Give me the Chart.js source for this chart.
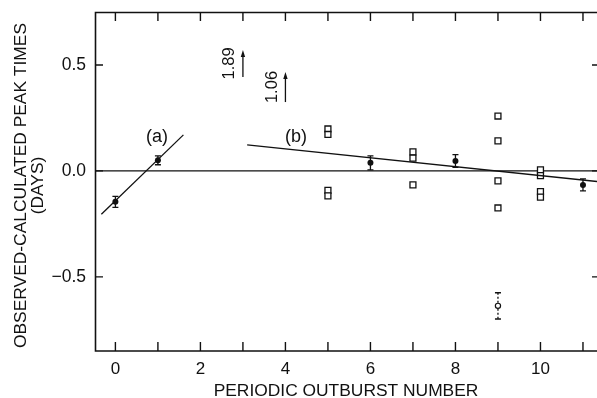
<!DOCTYPE html>
<html>
<head>
<meta charset="utf-8">
<script src="https://cdn.jsdelivr.net/npm/chart.js@4.4.0/dist/chart.umd.min.js"></script>
<style>
  html, body { margin: 0; padding: 0; background: #fff; }
  #wrap { width: 597px; height: 398px; }
</style>
</head>
<body>
<div id="wrap"><canvas id="chart0" width="597" height="398"></canvas></div>
<script>
// filled points with error bars
const dotX = [0, 1, 6, 8, 11];
const dotY = [-0.146, 0.05, 0.038, 0.047, -0.066];
const dotErr = [0.026, 0.021, 0.033, 0.03, 0.028];

// open squares
const boxX = [5, 5, 5, 5, 7, 7, 7, 9, 9, 9, 9, 10, 10, 10, 10];
const boxY = [0.198, 0.172, -0.092, -0.118, 0.09, 0.06, -0.066,
              0.259, 0.142, -0.047, -0.175, 0.005, -0.022, -0.098, -0.124];

// open circle with dotted error bar
const ringX = [9];
const ringY = [-0.637];
const ringErr = [0.062];

// fitted lines (a) and (b)
const lineAX = [-0.33, 1.6];
const lineAY = [-0.205, 0.17];
const lineBX = [3.1, 11.33];
const lineBY = [0.123, -0.05];

// off-scale values, shown as arrows
const arrowX = [3, 4];
const arrowFrom = [0.443, 0.325];
const arrowTo = [0.571, 0.467];
const arrowText = ['1.89', '1.06'];

// line labels
const noteText = ['(a)', '(b)'];
const noteX = [0.98, 4.25];
const noteY = [0.16, 0.16];

const xTicks = [0, 2, 4, 6, 8, 10];
const xMinor = [0, 1, 2, 3, 4, 5, 6, 7, 8, 9, 10, 11];
const yTicks = [-0.5, 0, 0.5];

const ink = '#111';
const fam = '"Liberation Sans", Arial, Helvetica, sans-serif';

function pts(xs, ys) {
  return xs.map((x, i) => ({ x: x, y: ys[i] }));
}

function noPad(s) {
  s.paddingTop = 0;
  s.paddingBottom = 0;
  s.paddingLeft = 0;
  s.paddingRight = 0;
}

const decor = {
  id: 'decor',
  beforeDatasetsDraw(chart) {
    const { ctx, chartArea: a, scales: { y } } = chart;
    // zero line
    const py = y.getPixelForValue(0);
    ctx.save();
    ctx.strokeStyle = ink;
    ctx.lineWidth = 1.4;
    ctx.beginPath();
    ctx.moveTo(a.left, py);
    ctx.lineTo(a.right, py);
    ctx.stroke();
    ctx.restore();
  },
  afterDatasetsDraw(chart) {
    const { ctx, chartArea: a, scales: { x, y } } = chart;
    ctx.save();
    ctx.strokeStyle = ink;
    ctx.fillStyle = ink;

    // frame
    ctx.lineWidth = 1.6;
    ctx.beginPath();
    ctx.moveTo(a.right, a.top + 0.5);
    ctx.lineTo(a.left + 0.5, a.top + 0.5);
    ctx.lineTo(a.left + 0.5, a.bottom);
    ctx.lineTo(a.right, a.bottom);
    ctx.stroke();

    // inward ticks
    ctx.lineWidth = 1.4;
    ctx.beginPath();
    xMinor.forEach(v => {
      const px = x.getPixelForValue(v);
      ctx.moveTo(px, a.bottom); ctx.lineTo(px, a.bottom - 9);
      ctx.moveTo(px, a.top); ctx.lineTo(px, a.top + 9);
    });
    yTicks.forEach(v => {
      const py = y.getPixelForValue(v);
      ctx.moveTo(a.left, py); ctx.lineTo(a.left + 8, py);
      ctx.moveTo(a.right, py); ctx.lineTo(a.right - 5, py);
    });
    ctx.stroke();

    // error bars on filled points
    ctx.lineWidth = 1.3;
    dotX.forEach((v, i) => {
      const px = x.getPixelForValue(v);
      const y1 = y.getPixelForValue(dotY[i] + dotErr[i]);
      const y2 = y.getPixelForValue(dotY[i] - dotErr[i]);
      ctx.beginPath();
      ctx.moveTo(px, y1); ctx.lineTo(px, y2);
      ctx.moveTo(px - 3, y1); ctx.lineTo(px + 3, y1);
      ctx.moveTo(px - 3, y2); ctx.lineTo(px + 3, y2);
      ctx.stroke();
    });

    // dotted error bar on the open circle
    ringX.forEach((v, i) => {
      const px = x.getPixelForValue(v);
      const y1 = y.getPixelForValue(ringY[i] + ringErr[i]);
      const y2 = y.getPixelForValue(ringY[i] - ringErr[i]);
      const yc = y.getPixelForValue(ringY[i]);
      ctx.setLineDash([2, 2]);
      ctx.beginPath();
      ctx.moveTo(px, y1); ctx.lineTo(px, yc - 3);
      ctx.moveTo(px, yc + 3); ctx.lineTo(px, y2);
      ctx.stroke();
      ctx.setLineDash([]);
      ctx.beginPath();
      ctx.moveTo(px - 3, y1); ctx.lineTo(px + 3, y1);
      ctx.moveTo(px - 3, y2); ctx.lineTo(px + 3, y2);
      ctx.stroke();
    });

    // arrows for off-scale values
    arrowX.forEach((v, i) => {
      const px = x.getPixelForValue(v);
      const yb = y.getPixelForValue(arrowFrom[i]);
      const yt = y.getPixelForValue(arrowTo[i]);
      ctx.lineWidth = 1.3;
      ctx.beginPath();
      ctx.moveTo(px, yb); ctx.lineTo(px, yt + 5);
      ctx.stroke();
      ctx.beginPath();
      ctx.moveTo(px, yt);
      ctx.lineTo(px - 2.2, yt + 7);
      ctx.lineTo(px + 2.2, yt + 7);
      ctx.closePath();
      ctx.fill();
      ctx.save();
      ctx.translate(px - 13, (yb + yt) / 2);
      ctx.rotate(-Math.PI / 2);
      ctx.font = '16.5px ' + fam;
      ctx.textAlign = 'center';
      ctx.textBaseline = 'middle';
      ctx.fillText(arrowText[i], 0, 0);
      ctx.restore();
    });

    // line labels
    ctx.font = '18px ' + fam;
    ctx.textAlign = 'center';
    ctx.textBaseline = 'middle';
    noteText.forEach((t, i) => {
      ctx.fillText(t, x.getPixelForValue(noteX[i]), y.getPixelForValue(noteY[i]));
    });

    // axis titles
    ctx.font = '17.4px ' + fam;
    ctx.fillText('PERIODIC OUTBURST NUMBER', (a.left + a.right) / 2, 391);
    ctx.save();
    ctx.translate(21, (a.top + a.bottom) / 2 + 4);
    ctx.rotate(-Math.PI / 2);
    ctx.fillText('OBSERVED-CALCULATED PEAK TIMES', 0, 0);
    ctx.fillText('(DAYS)', 0, 17);
    ctx.restore();

    ctx.restore();
  }
};

const ctx = document.getElementById('chart0').getContext('2d');
window.myChart = new Chart(ctx, {
  type: 'scatter',
  data: {
    datasets: [
      {
        label: 'fit a',
        type: 'line',
        data: pts(lineAX, lineAY),
        borderColor: ink,
        borderWidth: 1.3,
        pointRadius: 0,
        fill: false
      },
      {
        label: 'fit b',
        type: 'line',
        data: pts(lineBX, lineBY),
        borderColor: ink,
        borderWidth: 1.3,
        pointRadius: 0,
        fill: false
      },
      {
        label: 'squares',
        data: pts(boxX, boxY),
        pointStyle: 'rect',
        pointRadius: 4.2,
        backgroundColor: '#fff',
        borderColor: ink,
        borderWidth: 1.3
      },
      {
        label: 'points',
        data: pts(dotX, dotY),
        pointStyle: 'circle',
        pointRadius: 3,
        backgroundColor: ink,
        borderColor: ink,
        borderWidth: 0
      },
      {
        label: 'ring',
        data: pts(ringX, ringY),
        pointStyle: 'circle',
        pointRadius: 2.6,
        backgroundColor: '#fff',
        borderColor: ink,
        borderWidth: 1.2
      }
    ]
  },
  options: {
    responsive: false,
    animation: false,
    layout: { autoPadding: false, padding: { top: 12, right: 0, bottom: 0, left: 0 } },
    plugins: { legend: { display: false }, tooltip: { enabled: false } },
    scales: {
      x: {
        type: 'linear',
        min: -0.48,
        max: 11.33,
        grid: { display: false, drawTicks: false },
        border: { display: false },
        afterBuildTicks: s => { s.ticks = xTicks.map(v => ({ value: v })); },
        afterFit: s => { s.height = 47; noPad(s); },
        ticks: {
          padding: 8,
          color: ink,
          font: { family: fam, size: 17 },
          maxRotation: 0,
          callback: v => String(v)
        }
      },
      y: {
        type: 'linear',
        min: -0.85,
        max: 0.75,
        grid: { display: false, drawTicks: false },
        border: { display: false },
        afterBuildTicks: s => { s.ticks = yTicks.map(v => ({ value: v })); },
        afterFit: s => { s.width = 95; noPad(s); },
        ticks: {
          padding: 9,
          color: ink,
          font: { family: fam, size: 17.5 },
          callback: v => (v < 0 ? '\u2212' : '') + Math.abs(v).toFixed(1)
        }
      }
    }
  },
  plugins: [decor]
});
</script>
</body>
</html>
